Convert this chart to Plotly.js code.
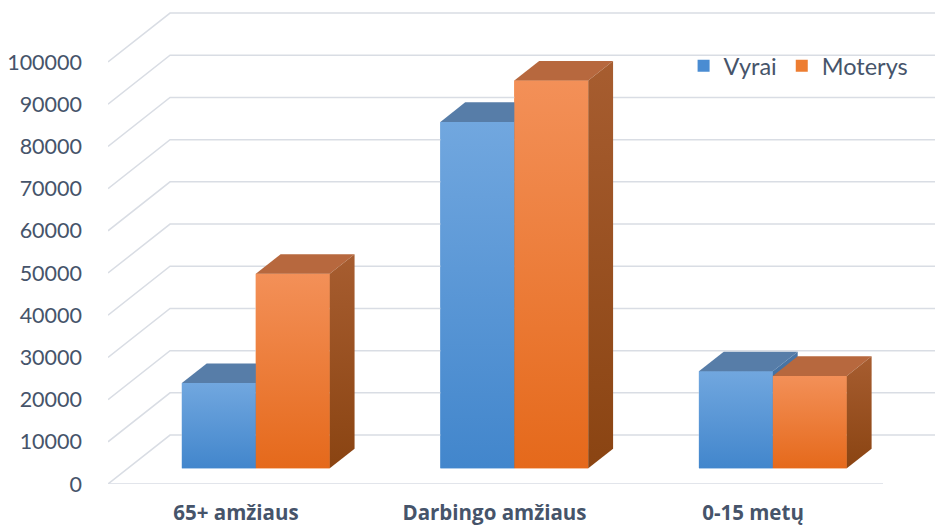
<!DOCTYPE html>
<html>
<head>
<meta charset="utf-8">
<script src="https://cdn.plot.ly/plotly-3.0.1.min.js"></script>
<style>
  html, body { margin: 0; padding: 0; background: #ffffff; }
  #chart { width: 935px; height: 526px; }
</style>
</head>
<body>
<div id="chart"></div>
<script>
// Population by age group and sex
const categories = ['65+ amžiaus', 'Darbingo amžiaus', '0-15 metų'];
const seriesNames = ['Vyrai', 'Moterys'];
const vyrai = [20200, 82100, 23000];
const moterys = [46100, 91900, 21900];
const yTicks = [0, 10000, 20000, 30000, 40000, 50000, 60000, 70000, 80000, 90000, 100000];

// Oblique projection used for the 3-D look
const DEPTH_X = 0.24;      // horizontal shift across the whole floor depth (category units)
const DEPTH_Y = 11600;     // vertical shift across the whole floor depth (value units)
const BAR_FRONT = 0.32;    // bar front plane, as a fraction of floor depth
const BAR_BACK = 0.72;     // bar back plane
const BAR_W = 0.286;       // width of one bar (category units)
const X_MIN = -0.495, X_MAX = 2.704, Y_MAX = 114700, FLOOR_END = 2.503;

const TEXT = '#46546A';
const GRID = '#D9DDE4';
const FONT = 'Lato, "Open Sans", sans-serif';
const FONT_BOLD = '"Open Sans", Lato, sans-serif';

const styles = {
  Vyrai:   { legend: '#4A8CD2', frontBottom: '#4286CC', frontTop: '#71A7DF', top: '#577DA8', sideTop: '#4A76A6', sideBottom: '#35608F' },
  Moterys: { legend: '#ED7D31', frontBottom: '#E5691B', frontTop: '#F39058', top: '#B7683E', sideTop: '#A75D30', sideBottom: '#8A4412' }
};

function proj(x, v, t) { return [x + t * DEPTH_X, v + t * DEPTH_Y]; }

function polygon(points, fill) {
  return {
    type: 'scatter', mode: 'lines', fill: 'toself',
    x: points.map(p => p[0]), y: points.map(p => p[1]),
    line: { width: 0, color: 'rgba(0,0,0,0)' },
    fillcolor: typeof fill === 'string' ? fill : undefined,
    fillgradient: typeof fill === 'string' ? undefined : fill,
    hoverinfo: 'skip', showlegend: false
  };
}
function vgrad(bottom, top) {
  return { type: 'vertical', colorscale: [[0, bottom], [1, top]] };
}

// Back wall, side wall and floor grid
const gx = [], gy = [];
yTicks.forEach(v => {
  [proj(X_MIN, v, 0), proj(X_MIN, v, 1), [X_MAX + 1, v + DEPTH_Y]].forEach(p => { gx.push(p[0]); gy.push(p[1]); });
  gx.push(null); gy.push(null);
});
gx.push(X_MIN, FLOOR_END); gy.push(0, 0);

const traces = [{
  type: 'scatter', mode: 'lines', x: gx, y: gy,
  line: { color: GRID, width: 1.5 }, hoverinfo: 'skip', showlegend: false
}];

// Front faces as bars (also give the legend entries)
const series = [vyrai, moterys];
series.forEach((vals, s) => {
  const st = styles[seriesNames[s]];
  traces.push({
    type: 'bar', name: seriesNames[s],
    x: categories.map((_, i) => i + (s - 0.5) * BAR_W + BAR_FRONT * DEPTH_X),
    y: vals, base: BAR_FRONT * DEPTH_Y, width: BAR_W,
    marker: { color: st.legend, line: { width: 0 } },
    hoverinfo: 'skip'
  });
});

// Shaded faces, drawn back-to-front
categories.forEach((_, i) => {
  series.forEach((vals, s) => {
    const st = styles[seriesNames[s]];
    const h = vals[i];
    const x0 = i + (s - 1) * BAR_W, x1 = x0 + BAR_W;
    traces.push(polygon([proj(x0, 0, BAR_FRONT), proj(x1, 0, BAR_FRONT), proj(x1, h, BAR_FRONT), proj(x0, h, BAR_FRONT)],
      vgrad(st.frontBottom, st.frontTop)));
    traces.push(polygon([proj(x0, h, BAR_FRONT), proj(x1, h, BAR_FRONT), proj(x1, h, BAR_BACK), proj(x0, h, BAR_BACK)], st.top));
    traces.push(polygon([proj(x1, 0, BAR_FRONT), proj(x1, 0, BAR_BACK), proj(x1, h, BAR_BACK), proj(x1, h, BAR_FRONT)],
      vgrad(st.sideBottom, st.sideTop)));
  });
});

const layout = {
  width: 935, height: 526,
  margin: { l: 108, r: 0, t: 0, b: 42, pad: 0 },
  paper_bgcolor: '#ffffff', plot_bgcolor: '#ffffff',
  barmode: 'overlay',
  showlegend: true,
  legend: {
    orientation: 'h', x: 0.696, xanchor: 'left', y: 0.8636, yanchor: 'middle',
    font: { family: FONT, size: 23.5, color: TEXT }, bgcolor: 'rgba(0,0,0,0)',
    traceorder: 'normal', itemgap: 0
  },
  xaxis: {
    range: [X_MIN, X_MAX], tickvals: categories.map((_, i) => i), ticktext: categories,
    showgrid: false, zeroline: false, showline: false, ticks: '',
    ticklabelstandoff: 14,
    tickfont: { family: FONT_BOLD, size: 20.5, color: TEXT, weight: 'bold' }, fixedrange: true
  },
  yaxis: {
    range: [0, Y_MAX], tickvals: yTicks, ticktext: yTicks.map(String),
    showgrid: false, zeroline: false, showline: false, ticks: '',
    ticklabelstandoff: 25,
    tickfont: { family: FONT, size: 21.5, color: TEXT }, fixedrange: true
  }
};

Plotly.newPlot('chart', traces, layout, { displayModeBar: false, staticPlot: true });
</script>
</body>
</html>
